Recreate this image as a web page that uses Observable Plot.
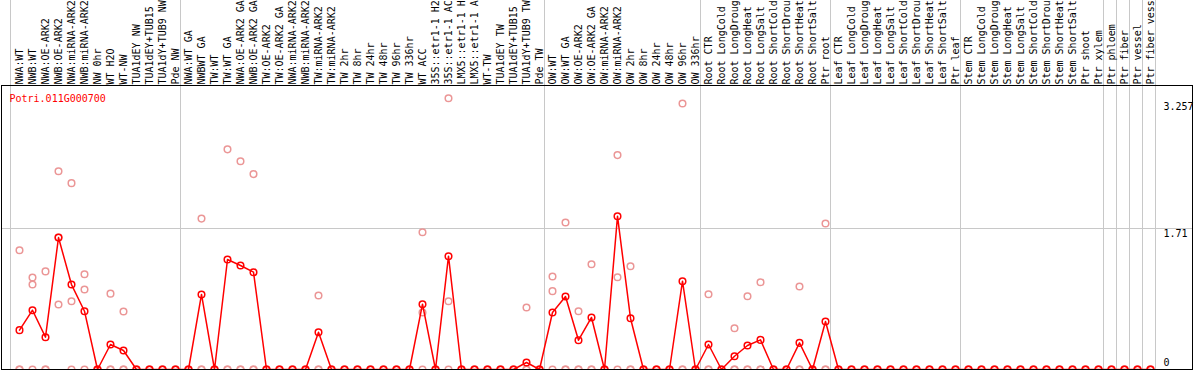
<!DOCTYPE html>
<html><head><meta charset="utf-8">
<script src="https://cdn.jsdelivr.net/npm/d3@7"></script>
<script src="https://cdn.jsdelivr.net/npm/@observablehq/plot@0.6"></script>
<style>html,body{margin:0;padding:0;background:#fff;} svg{display:block;}</style>
</head><body><div id="chart"></div>
<script>
const geneId = "Potri.011G000700";
const labels = [
  "NWA:WT","NWB:WT","NWA:OE-ARK2","NWB:OE-ARK2","NWA:miRNA-ARK2","NWB:miRNA-ARK2","NW 0hr","WT H2O","WT-NW","TUA1dEY NW","TUA1dEY+TUB15 NW","TUA1dY+TUB9 NW","Pde NW",
  "NWA:WT GA","NWBWT GA","TW:WT","TW:WT GA","NWA:OE-ARK2 GA","NWB:OE-ARK2 GA","TW:OE-ARK2","TW:OE-ARK2 GA","NWA:miRNA-ARK2 GA","NWB:miRNA-ARK2 GA","TW:miRNA-ARK2","TW:miRNA-ARK2","TW 2hr","TW 8hr","TW 24hr","TW 48hr","TW 96hr","TW 336hr","WT ACC","35S::etr1-1 H2O","35S::etr1-1 ACC","LMX5::etr1-1 H2O","LMX5::etr1-1 ACC","WT-TW","TUA1dEY TW","TUA1dEY+TUB15 TW","TUA1dY+TUB9 TW","Pde TW",
  "OW:WT","OW:WT GA","OW:OE-ARK2","OW:OE-ARK2 GA","OW:miRNA-ARK2","OW:miRNA-ARK2","OW 2hr","OW 8hr","OW 24hr","OW 48hr","OW 96hr","OW 336hr",
  "Root CTR","Root LongCold","Root LongDrought","Root LongHeat","Root LongSalt","Root ShortCold","Root ShortDrought","Root ShortHeat","Root ShortSalt","Ptr root",
  "Leaf CTR","Leaf LongCold","Leaf LongDrought","Leaf LongHeat","Leaf LongSalt","Leaf ShortCold","Leaf ShortDrought","Leaf ShortHeat","Leaf ShortSalt","Ptr leaf",
  "Stem CTR","Stem LongCold","Stem LongDrought","Stem LongHeat","Stem LongSalt","Stem ShortCold","Stem ShortDrought","Stem ShortHeat","Stem ShortSalt","Ptr shoot","Ptr xylem",
  "Ptr phloem","Ptr fiber","Ptr vessel","Ptr fiber vessel"
];
const groupSizes = [13, 28, 12, 10, 10, 11, 1, 1, 1, 1];
const meanValues = [
  0.477,0.719,0.392,1.60,1.03,0.707,0,0.303,0.23,0,0,0,0,
  0,0.91,0,1.334,1.261,1.18,0,0,0,0,0.452,0,0,0,0,0,0,0,0.792,0,1.374,0,0,0,0,0,0.085,0,
  0.691,0.885,0.355,0.631,0,1.859,0.622,0,0,0,1.071,0,
  0.303,0,0.161,0.291,0.359,0,0,0.323,0,0.582,
  0,0,0,0,0,0,0,0,0,0,
  0,0,0,0,0,0,0,0,0,0,0,
  0,0,0,0
];
const rep1 = [
  1.447,1.116,1.19,2.405,2.26,1.156,0,0.92,0.703,0,0,0,0,
  0,1.83,0,2.67,2.525,2.37,0,0,0,0,0.897,0,0,0,0,0,0,0,1.665,0,3.29,0,0,0,0,0,0.752,0,
  1.128,1.783,0.707,1.277,0,2.60,1.253,0,0,0,3.226,0,
  0.913,0,0.501,0.889,1.059,0,0,1.006,0,1.77,
  0,0,0,0,0,0,0,0,0,0,
  0,0,0,0,0,0,0,0,0,0,0,
  0,0,0,0
];
const rep2 = [
  0,1.03,0,0.788,0.828,0.97,0,0,0,0,0,0,0,
  0,0,0,0,0,0,0,0,0,0,0,0,0,0,0,0,0,0,0.691,0,0.828,0,0,0,0,0,0,0,
  0.95,0,0,0,0,1.119,0,0,0,0,0,0,
  0,0,0,0,0,0,0,0,0,0,
  0,0,0,0,0,0,0,0,0,0,
  0,0,0,0,0,0,0,0,0,0,0,
  0,0,0,0
];
const rep3 = [
  0,0,0,1.6,0,0,0,0,0,0,0,0,0,
  0,0,0,0,0,0,0,0,0,0,0,0,0,0,0,0,0,0,0,0,0,0,0,0,0,0,0,0,
  0,0,0,0,0,0,0,0,0,0,0,0,
  0,0,0,0,0,0,0,0,0,0,
  0,0,0,0,0,0,0,0,0,0,
  0,0,0,0,0,0,0,0,0,0,0,
  0,0,0,0
];
const yTicks = [0, 1.71, 3.257];

const rows = labels.map((label, i) => ({i, label, value: meanValues[i]}));
const reps = [rep1, rep2, rep3].flatMap(r => r.map((v, i) => ({i, value: v})));
const boundaries = [-9 / 13];
let acc = 0;
for (const s of groupSizes) { acc += s; boundaries.push(acc - 1 + 5 / 13); }

const font = "'DejaVu Sans Mono', 'Liberation Mono', monospace";
const chart = Plot.plot({
  width: 1194, height: 370,
  marginTop: 85, marginBottom: 1, marginLeft: 1, marginRight: 2,
  x: {type: "linear", domain: [0, labels.length - 1], range: [19, 19 + 13 * (labels.length - 1)], axis: null},
  y: {type: "linear", domain: [0, 1.71], range: [369, 228], axis: null},
  style: {fontFamily: font, fontSize: "10px", background: "white", color: "black", overflow: "visible"},
  marks: [
    Plot.ruleX(boundaries, {stroke: "#c8c8c8", strokeWidth: 1, insetTop: -85, insetBottom: -1}),
    Plot.ruleY([yTicks[1]], {stroke: "#c8c8c8", strokeWidth: 1}),
    Plot.dot(reps, {x: "i", y: "value", r: 3.3, stroke: "#eb9696", strokeWidth: 1.5, fill: "none"}),
    Plot.line(rows, {x: "i", y: "value", stroke: "red", strokeWidth: 1.5}),
    Plot.dot(rows, {x: "i", y: "value", r: 3.3, stroke: "red", strokeWidth: 1.5, fill: "none"}),
    Plot.frame({stroke: "black", strokeWidth: 1}),
    Plot.text(rows, {x: "i", text: "label", frameAnchor: "top", rotate: -90, textAnchor: "start", lineAnchor: "middle", dy: -1, fill: "black", fontFamily: font, fontSize: 10}),
    Plot.text([geneId], {frameAnchor: "top-left", dx: 8, dy: 16, lineAnchor: "bottom", textAnchor: "start", fill: "red", fontFamily: font, fontSize: 10}),
    Plot.text(yTicks.filter(v => v > 0), {y: d => d, text: d => String(d), frameAnchor: "right", textAnchor: "start", dx: -29, lineAnchor: "top", dy: 1.5, fill: "black", fontFamily: font, fontSize: 10}),
    Plot.text(yTicks.filter(v => v === 0), {y: d => d, text: d => String(d), frameAnchor: "right", textAnchor: "start", dx: -29, lineAnchor: "bottom", dy: -3.5, fill: "black", fontFamily: font, fontSize: 10})
  ]
});
document.getElementById("chart").appendChild(chart);
</script>
</body></html>
